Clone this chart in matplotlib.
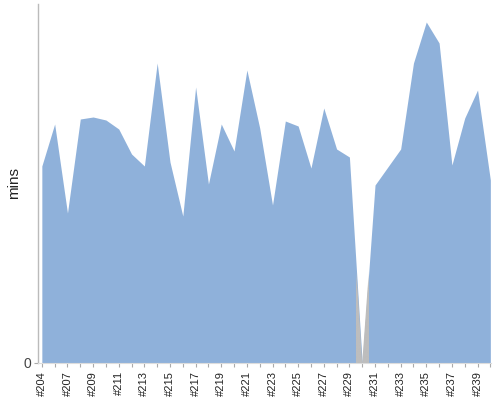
import numpy as np
import matplotlib
matplotlib.use("Agg")
import matplotlib.pyplot as plt
from matplotlib.colors import to_rgb

plt.rcParams['font.family'] = ['Liberation Sans', 'DejaVu Sans']

# builds and their durations (mins)
builds = ['#204', '#206'] + ['#%d' % n for n in range(207, 241)]
mins = [19.7, 23.9, 15.0, 24.4, 24.6, 24.3, 23.4, 20.9, 19.7, 30.0,
        20.1, 14.7, 27.6, 17.9, 23.9, 21.2, 29.3, 23.5, 15.8, 24.2,
        23.7, 19.5, 25.5, 21.4, 20.6, 0.0, 17.8, 19.6, 21.4, 30.0,
        34.1, 32.0, 19.8, 24.5, 27.3, 18.3]
failed_build = '#230'

blue = '#8fb1da'
grey = '#bdbdbd'

fig = plt.figure(figsize=(5, 4), dpi=100)
ax = fig.add_axes([0.076, 0.0925, 0.906, 0.8975])

x = np.arange(len(builds))
area = ax.fill_between(x, 0, mins, color=blue, linewidth=0)
area_path = area.get_paths()[0]

# failed build: grey band fading out towards the top, clipped to the area
i = builds.index(failed_build)
yy = np.linspace(0, 12, 200)
alpha = np.clip((9.2 - yy) / 1.8, 0, 1)
img = np.zeros((len(yy), 2, 4))
img[..., :3] = to_rgb(grey)
img[..., 3] = alpha[:, None]
im = ax.imshow(img, extent=[i - 0.5, i + 0.5, 0, 12], origin='lower',
               aspect='auto', interpolation='bilinear', zorder=2)
im.set_clip_path(area_path, transform=ax.transData)

ax.set_xlim(-0.3, len(builds) - 0.95)
ax.set_ylim(0, 35.9)

ax.set_yticks([0])
ax.set_yticklabels(['0'], fontsize=10)
ax.set_xticks(x)
ax.set_xticklabels([b if k % 2 == 0 else '' for k, b in enumerate(builds)],
                   rotation=90, fontsize=8)
ax.tick_params(axis='both', colors='#aaaaaa', length=3, width=0.8)
ax.tick_params(axis='x', labelcolor='#222222', pad=3)
ax.tick_params(axis='y', labelcolor='#444444', pad=2)

fig.text(0.028, 1 - 183 / 400, 'mins', rotation=90, fontsize=11,
         color='#222222', ha='center', va='center')

for s in ['top', 'right']:
    ax.spines[s].set_visible(False)
ax.spines['left'].set_color('#bbbbbb')
ax.spines['bottom'].set_color('#dddddd')
ax.spines['left'].set_linewidth(1)
ax.spines['bottom'].set_linewidth(0.8)

fig.savefig('out.png', dpi=100)
